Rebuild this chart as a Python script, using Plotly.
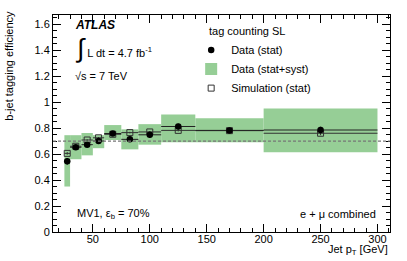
import plotly.graph_objects as go

bin_lo = [25, 30, 40, 50, 60, 75, 90, 110, 140, 200]
bin_hi = [30, 40, 50, 60, 75, 90, 110, 140, 200, 300]
data_eff = [0.545, 0.652, 0.672, 0.700, 0.758, 0.713, 0.748, 0.812, 0.782, 0.785]
data_stat = [0.025, 0.015, 0.015, 0.015, 0.018, 0.020, 0.022, 0.022, 0.020, 0.025]
syst_lo = [0.35, 0.56, 0.59, 0.645, 0.708, 0.636, 0.672, 0.69, 0.69, 0.613]
syst_hi = [0.745, 0.745, 0.762, 0.745, 0.823, 0.79, 0.83, 0.905, 0.875, 0.95]
sim_eff = [0.605, 0.660, 0.708, 0.725, 0.752, 0.765, 0.770, 0.782, 0.780, 0.760]
sim_stat = [0.010, 0.006, 0.006, 0.006, 0.006, 0.006, 0.006, 0.008, 0.010, 0.015]
wp_eff = 0.7

centers = [(a + b) / 2 for a, b in zip(bin_lo, bin_hi)]
half_w = [(b - a) / 2 for a, b in zip(bin_lo, bin_hi)]
widths = [b - a for a, b in zip(bin_lo, bin_hi)]

FONT = "Liberation Sans, Arial, sans-serif"
green = "rgb(150,206,150)"

fig = go.Figure()
fig.add_trace(go.Bar(
    x=centers, y=[h - l for h, l in zip(syst_hi, syst_lo)], base=syst_lo,
    width=widths, marker=dict(color=green, line=dict(width=0)),
    name="Data (stat+syst)", legendrank=2, hoverinfo="skip"))
fig.add_trace(go.Scatter(
    x=centers, y=sim_eff, mode="markers", name="Simulation (stat)", legendrank=3,
    marker=dict(symbol="square-open", size=6, color="#333333", line=dict(width=1)),
    error_x=dict(type="data", array=half_w, color="#333333", thickness=1, width=0),
    error_y=dict(type="data", array=sim_stat, color="#333333", thickness=1, width=0)))
fig.add_trace(go.Scatter(
    x=centers, y=data_eff, mode="markers", name="Data (stat)", legendrank=1,
    marker=dict(symbol="circle", size=6.5, color="black"),
    error_x=dict(type="data", array=half_w, color="#222222", thickness=1, width=0),
    error_y=dict(type="data", array=data_stat, color="black", thickness=1.5, width=0)))

fig.add_shape(type="line", xref="paper", x0=0, x1=1, yref="y", y0=wp_eff, y1=wp_eff,
              line=dict(color="#777777", width=1.2, dash="3px,2px"))

axis_common = dict(showgrid=False, zeroline=False, showline=True, linecolor="black",
                   linewidth=1, mirror="allticks", ticks="inside", tickcolor="black",
                   automargin=False,
                   tickfont=dict(family=FONT, size=11, color="black"))
fig.update_xaxes(range=[15, 311], tickvals=[50, 100, 150, 200, 250, 300], ticklen=8,
                 ticklabelstandoff=-3,
                 minor=dict(dtick=10, tick0=0, ticks="inside", ticklen=4, tickcolor="black"),
                 **axis_common)
fig.update_yaxes(range=[0, 1.67], dtick=0.2, ticklen=8, tickformat="~g",
                 minor=dict(dtick=0.05, tick0=0, ticks="inside", ticklen=4, tickcolor="black"),
                 **axis_common)

ann = [
    dict(text="<b><i>ATLAS</i></b>", x=0.06, y=0.955, size=12),
    dict(text="<span style='font-size:26px'>∫</span> L dt = 4.7 fb<sup>-1</sup>", x=0.06, y=0.85),
    dict(text="√s = 7 TeV", x=0.06, y=0.72),
    dict(text="tag counting SL", x=0.457, y=0.925),
    dict(text="MV1, ε<sub>b</sub> = 70%", x=0.065, y=0.085),
    dict(text="e + μ combined", x=0.965, y=0.085, xanchor="right"),
    dict(text="Jet p<sub>T</sub> [GeV]", x=1.0, y=-0.082, xanchor="right"),
    dict(text="b-jet tagging efficiency", x=-0.13, y=1.03, xanchor="center", yanchor="top",
         textangle=-90),
]
for a in ann:
    a.setdefault("xanchor", "left")
    a.setdefault("yanchor", "middle")
    size = a.pop("size", 11)
    fig.add_annotation(xref="paper", yref="paper", showarrow=False,
                       font=dict(family=FONT, size=size, color="black"), **a)

fig.update_layout(
    width=407, height=261, margin=dict(l=53, r=17, t=15, b=29, autoexpand=False),
    plot_bgcolor="white", paper_bgcolor="white", barmode="overlay",
    font=dict(family=FONT, size=11, color="black"),
    legend=dict(x=0.41, y=0.905, xanchor="left", yanchor="top", bgcolor="rgba(0,0,0,0)",
                font=dict(family=FONT, size=11), tracegroupgap=0, itemwidth=30),
    showlegend=True,
)
fig.write_html("out.html", config={"displayModeBar": False},
               post_script="document.body.style.margin='0px';document.body.style.overflow='hidden';")
